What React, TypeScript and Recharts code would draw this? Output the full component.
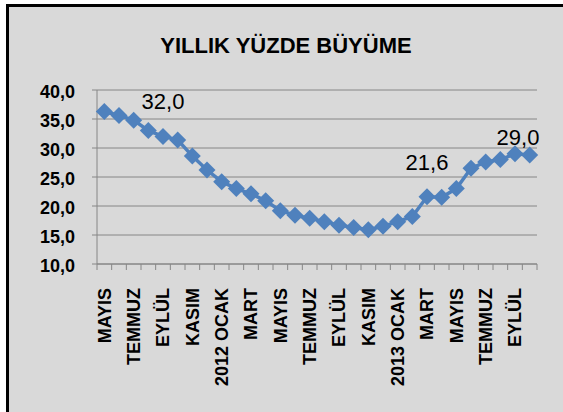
import React from 'react';
import { LineChart, Line, XAxis, YAxis, CartesianGrid } from 'recharts';

// Month labels (every second month is labelled on the axis)
const months: string[] = [
  'MAYIS', '', 'TEMMUZ', '', 'EYLÜL', '', 'KASIM', '', '2012 OCAK', '', 'MART', '',
  'MAYIS', '', 'TEMMUZ', '', 'EYLÜL', '', 'KASIM', '', '2013 OCAK', '', 'MART', '',
  'MAYIS', '', 'TEMMUZ', '', 'EYLÜL', '',
];

// Annual percent growth
const growth: number[] = [
  36.3, 35.6, 34.8, 33.0, 32.0, 31.4, 28.6, 26.2, 24.2, 23.0, 22.1, 20.9,
  19.2, 18.4, 17.9, 17.3, 16.7, 16.3, 15.9, 16.5, 17.3, 18.2, 21.6, 21.5,
  23.0, 26.5, 27.6, 28.0, 29.0, 28.8,
];

const yTicks: number[] = [10, 15, 20, 25, 30, 35, 40];

// Indices of points carrying a data label
const labelledPoints: number[] = [4, 22, 28];
const labelOffsets: Record<number, { dx: number; dy: number }> = {
  4: { dx: 0, dy: -27 },
  22: { dx: 0, dy: -27 },
  28: { dx: 3, dy: -9 },
};

const data = growth.map((v, i) => ({ idx: i, month: months[i], value: v }));

const boundaryTicks = growth.map((_, i) => i - 0.5).concat([growth.length - 0.5]);
const labelTicks = months.map((m, i) => (m ? i : -1)).filter((i) => i >= 0);
const xTicks = [...boundaryTicks, ...labelTicks].sort((a, b) => a - b);

const FONT = '"Liberation Sans", Arial, sans-serif';
const GRAY = '#868686';
const BLUE = '#4F81BD';

const fmt = (v: number) => v.toFixed(1).replace('.', ',');

const XTick = (props: any) => {
  const { x, y, payload } = props;
  const v = payload.value as number;
  if (!Number.isInteger(v)) {
    return <line x1={x} x2={x} y1={y - 6} y2={y} stroke={GRAY} strokeWidth={1} />;
  }
  const label = months[v];
  if (!label) return <g />;
  const ty = y + 18;
  return (
    <text
      x={x}
      y={ty}
      transform={`rotate(-90 ${x} ${ty})`}
      textAnchor="end"
      dy="0.35em"
      fontFamily={FONT}
      fontWeight="bold"
      fontSize={18}
      fill="#000"
    >
      {label}
    </text>
  );
};

const Diamond = (props: any) => {
  const { cx, cy, index } = props;
  if (cx == null || cy == null) return <g key={`d-${index}`} />;
  const r = 8.5;
  return (
    <path
      key={`d-${index}`}
      d={`M${cx},${cy - r}L${cx + r},${cy}L${cx},${cy + r}L${cx - r},${cy}Z`}
      fill={BLUE}
      stroke="none"
    />
  );
};

const PointLabel = (props: any) => {
  const { x, y, value, index } = props;
  if (!labelledPoints.includes(index)) return <g key={`l-${index}`} />;
  const off = labelOffsets[index];
  return (
    <text
      key={`l-${index}`}
      x={x + off.dx}
      y={y + off.dy}
      textAnchor="middle"
      fontFamily={FONT}
      fontSize={22}
      fill="#000"
    >
      {fmt(value)}
    </text>
  );
};

export default function App() {
  return (
    <div style={{ position: 'absolute', left: 0, top: 0, width: 563, height: 412, background: '#fff', overflow: 'hidden' }}>
      <div
        style={{
          position: 'absolute',
          left: 6,
          top: 4,
          width: 557,
          height: 408,
          boxSizing: 'border-box',
          borderLeft: '3px solid #000',
          borderTop: '3px solid #000',
          background: '#D9D9D9',
        }}
      />
      <div
        style={{
          position: 'absolute',
          left: 9,
          width: 554,
          top: 35,
          textAlign: 'center',
          fontFamily: FONT,
          fontWeight: 'bold',
          fontSize: 22,
          lineHeight: '22px',
          color: '#000',
        }}
      >
        YILLIK YÜZDE BÜYÜME
      </div>
      <div style={{ position: 'absolute', left: 0, top: 0 }}>
        <LineChart width={563} height={412} data={data} margin={{ top: 90, right: 26, bottom: 0, left: 37 }}>
          <CartesianGrid horizontal vertical={false} stroke={GRAY} strokeWidth={1} />
          <XAxis
            dataKey="idx"
            type="number"
            domain={[-0.5, growth.length - 0.5]}
            ticks={xTicks}
            interval={0}
            height={148}
            tickSize={6}
            tickMargin={0}
            tickLine={false}
            axisLine={{ stroke: GRAY, strokeWidth: 1 }}
            tick={<XTick />}
          />
          <YAxis
            type="number"
            domain={[10, 40]}
            ticks={yTicks}
            interval={0}
            width={60}
            tickSize={5}
            tickMargin={17}
            tickLine={{ stroke: GRAY }}
            axisLine={{ stroke: GRAY }}
            tickFormatter={fmt}
            tick={{ fill: '#000', fontFamily: FONT, fontWeight: 'bold', fontSize: 18, dy: 2 }}
          />
          <Line
            type="linear"
            dataKey="value"
            stroke={BLUE}
            strokeWidth={3.5}
            dot={Diamond}
            activeDot={false}
            label={PointLabel}
            isAnimationActive={false}
          />
        </LineChart>
      </div>
    </div>
  );
}
